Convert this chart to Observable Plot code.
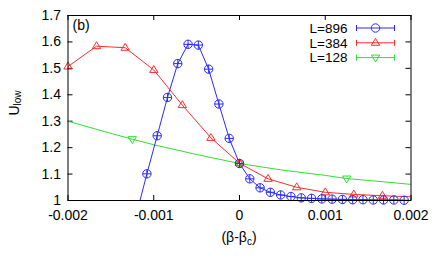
<!DOCTYPE html>
<html><head><meta charset="utf-8">
<script src="https://cdn.jsdelivr.net/npm/d3@7"></script>
<script src="https://cdn.jsdelivr.net/npm/@observablehq/plot@0.6"></script>
<style>body{margin:0;background:#fff} svg{display:block}</style>
</head><body><div id="chart"></div>
<script>
// ---- data ----
const xTicks = [-0.002, -0.001, 0, 0.001, 0.002];
const xTickLabels = ["-0.002", "-0.001", "0", "0.001", "0.002"];
const yTicks = [1, 1.1, 1.2, 1.3, 1.4, 1.5, 1.6, 1.7];
const yTickLabels = ["1", "1.1", "1.2", "1.3", "1.4", "1.5", "1.6", "1.7"];

const seriesNames = ["L=896", "L=384", "L=128"];
const seriesColors = ["#2b2bff", "#ff2b2b", "#2ee02e"];

const x896 = [-0.0012, -0.00108, -0.00096, -0.00084, -0.00072, -0.0006, -0.00048, -0.00036, -0.00024, -0.00012,
  0, 0.00012, 0.00024, 0.00036, 0.00048, 0.0006, 0.00072, 0.00084, 0.00096, 0.00108, 0.0012, 0.00132, 0.00144,
  0.00156, 0.00168, 0.0018, 0.00192];
const u896 = [0.95, 1.101, 1.245, 1.390, 1.518, 1.591, 1.588, 1.497, 1.365, 1.235,
  1.140, 1.082, 1.048, 1.031, 1.021, 1.015, 1.010, 1.008, 1.006, 1.005, 1.004, 1.003, 1.003,
  1.002, 1.002, 1.002, 1.001];

const x384 = [-0.002, -0.001667, -0.001333, -0.001, -0.000667, -0.000333, 0, 0.000333, 0.000667, 0.001, 0.001333, 0.001667, 0.002];
const u384 = [1.507, 1.584, 1.578, 1.494, 1.361, 1.237, 1.141, 1.082, 1.050, 1.031, 1.023, 1.018, 1.014];
const marked384 = [true, true, true, true, true, true, true, true, true, true, true, true, false];

const x128 = [-0.002, -0.0015, -0.00125, -0.001, -0.0005, 0, 0.0005, 0.001, 0.00125, 0.0015, 0.002];
const u128 = [1.300, 1.254, 1.232, 1.211, 1.174, 1.140, 1.115, 1.095, 1.083, 1.076, 1.061];
const marked128 = [false, false, true, false, false, true, false, false, true, false, false];

// ---- tables ----
const d896 = x896.map((x, i) => ({x, u: u896[i], m: u896[i] >= 1}));
const d384 = x384.map((x, i) => ({x, u: u384[i], m: marked384[i]}));
const d128 = x128.map((x, i) => ({x, u: u128[i], m: marked128[i]}));

// ---- symbols ----
const circlePlus = {draw(c, size) {
  const r = Math.sqrt(size / Math.PI);
  c.moveTo(r, 0); c.arc(0, 0, r, 0, 2 * Math.PI);
  c.moveTo(-r, 0); c.lineTo(r, 0);
  c.moveTo(0, -r); c.lineTo(0, r);
}};
const circleOnly = {draw(c, size) {
  const r = Math.sqrt(size / Math.PI);
  c.moveTo(r, 0); c.arc(0, 0, r, 0, 2 * Math.PI);
}};
const triUp = {draw(c, size) {
  const r = Math.sqrt(size / Math.PI);
  c.moveTo(0, -r * 1.05); c.lineTo(r, r * 0.6); c.lineTo(-r, r * 0.6); c.closePath();
}};
const triDown = {draw(c, size) {
  const r = Math.sqrt(size / Math.PI);
  c.moveTo(0, r * 1.05); c.lineTo(r, -r * 0.6); c.lineTo(-r, -r * 0.6); c.closePath();
}};
const legendSymbols = [circleOnly, triUp, triDown];

const W = 436, H = 262, mL = 67.5, mR = 25.5, mT = 15, mB = 62;
const innerW = W - mL - mR, innerH = H - mT - mB;
const font = "'Liberation Sans', Arial, Helvetica, sans-serif";

const lineOpts = (c) => ({x: "x", y: "u", stroke: c, strokeWidth: 1, clip: true});
const dotOpts = (c, s) => ({x: "x", y: "u", stroke: c, fill: "none", strokeWidth: 1, symbol: s, r: 4.2});

const svg = Plot.plot({
  width: W, height: H,
  marginLeft: mL, marginRight: mR, marginTop: mT, marginBottom: mB,
  style: {fontFamily: font, fontSize: "14px", color: "#000", background: "#fff"},
  x: {domain: [-0.002, 0.002]},
  y: {domain: [1, 1.7]},
  marks: [
    Plot.axisX(xTicks, {tickSize: 0, tickPadding: 10, tickFormat: (d, i) => xTickLabels[i], fontSize: 14, label: null, fill: "#000"}),
    Plot.axisY(yTicks, {tickSize: 0, tickPadding: 7, tickFormat: (d, i) => yTickLabels[i], fontSize: 14, label: null, fill: "#000"}),
    Plot.tickX(xTicks, {x: d => d, insetTop: innerH - 5, stroke: "#000"}),
    Plot.tickX(xTicks, {x: d => d, insetBottom: innerH - 5, stroke: "#000"}),
    Plot.tickY(yTicks, {y: d => d, insetLeft: innerW - 5, stroke: "#000"}),
    Plot.tickY(yTicks, {y: d => d, insetRight: innerW - 5, stroke: "#000"}),
    Plot.line(d128, lineOpts(seriesColors[2])),
    Plot.line(d384, lineOpts(seriesColors[1])),
    Plot.line(d896, lineOpts(seriesColors[0])),
    Plot.dot(d128.filter(d => d.m), dotOpts(seriesColors[2], triDown)),
    Plot.dot(d384.filter(d => d.m), dotOpts(seriesColors[1], triUp)),
    Plot.dot(d896.filter(d => d.m), dotOpts(seriesColors[0], circlePlus)),
    Plot.frame({stroke: "#000", strokeWidth: 1})
  ]
});

// ---- annotations: labels, panel tag, legend ----
const s = d3.select(svg);
const g = s.append("g").attr("font-family", font).attr("font-size", 14).attr("fill", "#000");

const yl = g.append("text").attr("transform", "translate(19,103) rotate(-90)").attr("text-anchor", "middle");
yl.append("tspan").text("U");
yl.append("tspan").attr("font-size", 10).attr("dy", 2).text("low");

const xl = g.append("text").attr("x", 239).attr("y", 242).attr("text-anchor", "middle");
xl.append("tspan").text("(β-β");
xl.append("tspan").attr("font-size", 10).attr("dy", 3).text("c");
xl.append("tspan").attr("dy", -3).text(")");

g.append("text").attr("x", 72.5).attr("y", 29.5).attr("text-anchor", "start").text("(b)");

const rows = [28, 42.8, 57.6];
seriesNames.forEach((name, i) => {
  const y = rows[i], c = seriesColors[i];
  g.append("text").attr("x", 347.5).attr("y", y + 4.7).attr("text-anchor", "end").attr("font-size", 13.5).text(name);
  const lg = s.append("g").attr("stroke", c).attr("fill", "none").attr("stroke-width", 1);
  lg.append("line").attr("x1", 356.5).attr("x2", 394.5).attr("y1", y).attr("y2", y);
  lg.append("line").attr("x1", 356.5).attr("x2", 356.5).attr("y1", y - 3).attr("y2", y + 3);
  lg.append("line").attr("x1", 394.5).attr("x2", 394.5).attr("y1", y - 3).attr("y2", y + 3);
  lg.append("path").attr("transform", `translate(375.5,${y})`)
    .attr("d", d3.symbol(legendSymbols[i], Math.PI * 4.2 * 4.2)());
});

document.getElementById("chart").appendChild(svg);
</script>
</body></html>
